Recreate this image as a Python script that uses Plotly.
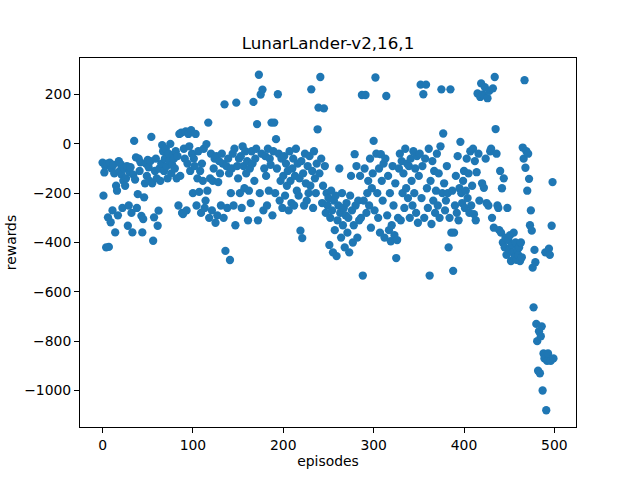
import plotly.graph_objects as go

# rewards per episode (10 per row)
rewards = [
    -76, -210, -116, -90, -420, -80, -298, -418, -76, -318,
    -100, -270, -85, -120, -359, -170, -190, -290, -70, -110,
    -82, -125, -260, -150, -100, -170, -140, -90, -332, -250,
    -115, -95, -280, -359, -125, 12, -145, -55, -260, -204,
    -60, -110, -75, -292, -359, -305, -217, -160, -80, -130,
    -65, -95, -150, -70, 28, -160, -393, -298, -110, -60,
    -140, -332, -271, -100, -150, -80, -5, -30, -110, -60,
    -20, -90, -140, -40, -70, 0, -120, -85, -45, -60,
    -100, -30, -140, -50, -250, 40, -130, 45, -280, -285,
    -20, -60, 50, -270, -80, 40, -10, -110, 55, -40,
    -200, -60, -90, 40, -250, -140, -30, -195, -110, -280,
    -80, -150, -20, -260, -230, -1, -190, 86, -300, -140,
    -40, -270, -150, -100, -60, -320, -50, -290, -155, -70,
    -120, -250, -40, -80, -300, 160, -434, -90, -260, -60,
    -120, -471, -200, -100, -40, -250, -20, -330, 167, -90,
    -140, -60, -200, -50, -260, -10, -90, -180, -30, -120,
    -70, -310, -190, -100, -240, -30, -80, 170, -150, -60,
    -20, 80, -310, 280, -200, 200, -40, 220, -270, -100,
    -50, -130, -250, -20, -190, -60, -85, 86, -290, -30,
    86, -200, 19, -100, 201, -40, -230, -150, -60, -260,
    -130, -50, -210, -80, -170, -110, -270, -30, -150, -240,
    -100, -60, -250, -130, -20, -190, -80, -210, -140, -352,
    -70, -382, -120, -250, -40, -160, -230, -90, -200, -50,
    -170, 221, -110, -260, -30, -140, -200, -80, 59, 147,
    -120, 271, -60, -240, -170, 144, -90, -280, -200, -250,
    -220, -410, -300, -190, -270, -440, -230, -350, -210, -455,
    -310, -250, -100, -280, -380, -200, -330, -260, -420, -290,
    -240, -360, -300, -440, -210, -130, -270, -400, -330, -42,
    -250, -90, -380, -230, -310, -130, -300, 198, -534, -230,
    -100, 198, -280, -200, -150, -250, -60, -340, -180, -120,
    12, -270, 269, -40, -200, -300, -100, -360, -42, -150,
    -230, -80, -380, -60, 194, -290, -130, -350, -200, -395,
    -330, -90, -250, -370, -160, -463, -390, -300, -100, -40,
    -310, -70, -200, -120, -260, -20, -180, -80, -220, -90,
    -300, -60, -150, -250, -30, -200, -100, -280, -50, -320,
    -130, -40, 240, -220, -90, 201, -300, -60, 240, -180,
    -260, -20, -534, -150, -325, -70, -230, -110, -280, -190,
    -40, -250, -120, -300, -10, 221, -200, 42, -160, -270,
    -230, -90, -200, -420, -300, 221, -360, -190, -515, -360,
    -250, -130, -280, -50, -310, -180, 8, -200, -240, -150,
    -110, -260, -190, -60, -220, -120, -280, -30, -250, -170,
    -20, -285, -70, -310, -115, 204, -40, -230, 190, 245,
    -160, 200, -178, 230, -60, -240, 185, -250, 215, -30,
    -20, -300, 225, -340, 271, 60, -40, -250, -260, -350,
    -110, -360, -180, -400, -140, -420, -380, -450, -260, -390,
    -430, -370, -475, -410, -440, -360, -460, -400, -470, -430,
    -450, -420, -475, -400, -460, -15, -60, 258, -97, -30,
    -190, -40, -142, -330, -270, -352, -502, -663, -430, -480,
    -730, -800, -920, -760, -930, -780, -740, -1000, -850, -870,
    -440, -1080, -880, -850, -425, -450, -880, -332, -155, -870,
]
episodes = list(range(len(rewards)))

# matplotlib-like 5% margins
lo, hi = min(rewards), max(rewards)
pad = (hi - lo) * 0.05
xpad = (episodes[-1] - episodes[0]) * 0.05

fig = go.Figure()
fig.add_trace(go.Scatter(
    x=episodes, y=rewards, mode="markers",
    marker=dict(color="#1f77b4", size=8.3, line=dict(width=0)),
))

axis_style = dict(
    showgrid=False, zeroline=False, showline=True, linecolor="black",
    linewidth=1, mirror=True, ticks="outside", ticklen=5, tickwidth=1,
    tickcolor="black", tickfont=dict(size=13.9, color="black"),
    automargin=False,
)
fig.update_xaxes(range=[episodes[0] - xpad, episodes[-1] + xpad],
                 tickvals=[0, 100, 200, 300, 400, 500],
                 title=dict(text="episodes", font=dict(size=13.9, color="black"), standoff=4),
                 **axis_style)
fig.update_yaxes(range=[lo - pad, hi + pad],
                 tickvals=[-1000, -800, -600, -400, -200, 0, 200],
                 tickformat="d",
                 title=dict(text="rewards", font=dict(size=13.9, color="black"), standoff=4),
                 **axis_style)
fig.update_layout(
    width=640, height=480,
    margin=dict(l=80, r=64, t=58, b=53),
    paper_bgcolor="white", plot_bgcolor="white",
    font=dict(family="DejaVu Sans", color="black"),
    showlegend=False,
    title=dict(text="LunarLander-v2,16,1", x=0.5, xanchor="center",
               xref="paper", yref="container", y=1 - 43 / 480, yanchor="middle",
               automargin=False, font=dict(size=16.7, color="black")),
)
# drop the default 8px page margin so the figure sits at the window corner
fig.write_html("out.html", config={"displayModeBar": False},
               post_script="document.body.style.margin='0';")
